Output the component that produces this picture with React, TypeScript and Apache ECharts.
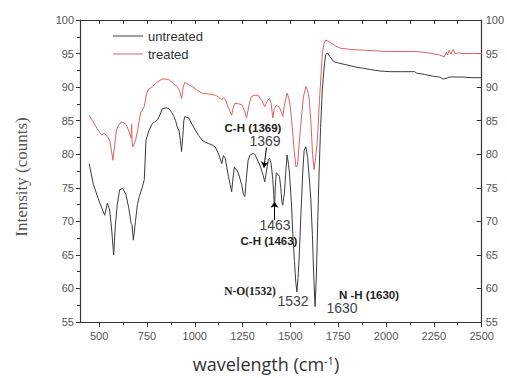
import React, { useEffect, useRef } from "react";
import * as echarts from "echarts";

const seriesNames = ["untreated", "treated"];

const untreated: number[][] = [
  [448, 78.6], [470, 75.5], [500, 73.0], [529, 70.9], [543, 72.7], [555, 71.7], [565, 69.0], [576, 65.0],
  [585, 69.5], [595, 72.5], [607, 74.7], [624, 74.9], [640, 74.0], [655, 72.0], [667, 69.7], [672, 69.5],
  [679, 67.2], [690, 70.0], [700, 72.5], [710, 73.7], [725, 75.0], [736, 76.2], [745, 82.1], [760, 83.5],
  [779, 84.6], [790, 84.8], [805, 85.1], [820, 86.0], [831, 86.8], [850, 86.9], [865, 86.8], [880, 86.2],
  [891, 85.6], [900, 85.0], [908, 84.1], [918, 83.5], [925, 82.0], [931, 80.4], [937, 82.5], [943, 85.0],
  [948, 85.6], [969, 85.4], [985, 84.5], [1003, 83.6], [1020, 82.8], [1038, 82.1], [1055, 81.8], [1072, 81.6],
  [1090, 81.4], [1107, 81.1], [1125, 80.0], [1141, 78.6], [1150, 79.8], [1159, 79.4], [1168, 78.0], [1176, 76.7],
  [1185, 75.5], [1193, 74.4], [1200, 76.5], [1207, 78.1], [1220, 77.6], [1228, 77.2], [1245, 75.5], [1255, 74.0],
  [1262, 73.7], [1270, 76.5], [1279, 79.1], [1290, 79.9], [1305, 80.1], [1314, 80.0], [1330, 79.0], [1345, 78.0],
  [1358, 76.8], [1366, 75.9], [1375, 77.5], [1385, 79.2], [1391, 79.4], [1400, 78.5], [1408, 76.2], [1413, 74.0],
  [1417, 71.7], [1421, 75.0], [1426, 77.2], [1435, 77.0], [1443, 76.7], [1450, 75.0], [1455, 73.0], [1460, 72.4],
  [1465, 73.5], [1469, 74.2], [1475, 77.0], [1483, 79.9], [1490, 78.5], [1495, 77.2], [1505, 73.0], [1513, 68.0],
  [1521, 64.2], [1528, 61.0], [1534, 59.5], [1540, 61.5], [1546, 64.7], [1555, 71.0], [1565, 77.5], [1572, 80.6],
  [1581, 81.1], [1590, 79.5], [1600, 76.0], [1607, 73.2], [1615, 68.0], [1622, 62.0], [1629, 57.3], [1636, 62.0],
  [1643, 70.0], [1650, 77.2], [1658, 84.0], [1667, 89.6], [1675, 92.5], [1684, 94.8], [1693, 95.1], [1705, 94.6],
  [1727, 93.8], [1750, 93.6], [1796, 93.3], [1840, 93.0], [1883, 92.8], [1920, 92.6], [1969, 92.4], [2020, 92.3],
  [2080, 92.3], [2150, 92.3], [2158, 92.1], [2200, 91.9], [2250, 91.6], [2279, 91.5], [2300, 91.2], [2314, 91.3],
  [2330, 91.5], [2355, 91.5], [2400, 91.5], [2450, 91.4], [2500, 91.4],
];

const treated: number[][] = [
  [448, 85.8], [469, 84.8], [490, 83.8], [512, 82.9], [529, 83.1], [545, 82.5], [555, 82.1], [565, 80.5],
  [572, 79.1], [580, 81.0], [590, 83.5], [598, 84.1], [615, 84.8], [630, 84.7], [641, 84.4], [655, 83.5],
  [667, 82.4], [670, 84.5], [672, 82.0], [676, 81.1], [690, 82.0], [702, 83.6], [712, 85.5], [719, 86.3],
  [736, 87.1], [748, 89.1], [760, 89.7], [779, 90.1], [800, 90.7], [831, 91.2], [850, 91.2], [865, 91.1],
  [885, 90.6], [908, 90.1], [920, 89.5], [931, 88.3], [940, 90.0], [948, 90.7], [965, 90.4], [986, 90.1],
  [1010, 89.6], [1038, 89.1], [1070, 89.0], [1107, 88.8], [1125, 88.5], [1141, 88.1], [1150, 88.4], [1159, 88.2],
  [1175, 87.0], [1193, 85.8], [1200, 86.8], [1210, 87.6], [1230, 87.5], [1245, 87.4], [1260, 86.5], [1271, 85.4],
  [1285, 87.5], [1296, 88.6], [1315, 88.8], [1331, 88.8], [1350, 88.0], [1366, 87.1], [1380, 88.0], [1391, 88.3],
  [1400, 87.5], [1408, 85.4], [1416, 86.8], [1426, 87.3], [1443, 87.0], [1452, 86.3], [1460, 85.6], [1470, 87.5],
  [1483, 89.1], [1492, 88.3], [1500, 87.0], [1510, 84.0], [1520, 80.5], [1529, 78.1], [1538, 78.5], [1546, 81.5],
  [1555, 84.6], [1568, 88.5], [1581, 90.1], [1590, 89.5], [1598, 88.3], [1608, 84.5], [1616, 80.0], [1624, 77.7],
  [1632, 79.5], [1641, 82.1], [1652, 88.0], [1667, 95.0], [1676, 96.5], [1684, 97.0], [1701, 96.8], [1730, 96.2],
  [1762, 95.8], [1820, 95.6], [1883, 95.5], [1950, 95.4], [2020, 95.3], [2100, 95.3], [2158, 95.3], [2220, 95.1],
  [2279, 94.8], [2295, 94.6], [2305, 94.5], [2315, 95.2], [2322, 94.8], [2330, 95.5], [2340, 94.9], [2350, 95.6],
  [2360, 95.0], [2380, 95.1], [2400, 95.0], [2450, 95.0], [2500, 95.0],
];

const xMin = 400;
const xMax = 2500;
const xMajorTicks = [500, 750, 1000, 1250, 1500, 1750, 2000, 2250, 2500];
const xMinorTicks = [625, 875, 1125, 1375, 1625, 1875, 2125, 2375];
const yMin = 55;
const yMax = 100;
const yStep = 5;

// arrows (data coordinates): [from, to]
const arrowLines: number[][][] = [
  [[1375, 81.0], [1362, 78.0]],
  [[1417, 70.2], [1417, 72.9]],
];

const annotationTexts = [
  { text: "C-H (1369)", kind: "bold" },
  { text: "1369", kind: "num" },
  { text: "1463", kind: "num" },
  { text: "C-H (1463)", kind: "bold" },
  { text: "N-O(1532)", kind: "serif" },
  { text: "1532", kind: "num" },
  { text: "N -H (1630)", kind: "bold" },
  { text: "1630", kind: "num" },
];
// layout positions (pixels) for annotation texts
const annotationPos = [
  [253, 128], [265, 141], [275, 225], [269, 241], [250, 291], [293, 301], [369, 295], [342, 308],
];

const fontFor = (kind: string) => {
  if (kind === "bold") return "bold 11.5px 'Liberation Sans', Arial, sans-serif";
  if (kind === "serif") return "bold 11.5px 'Liberation Serif', 'Times New Roman', serif";
  return "14px 'Liberation Sans', Arial, sans-serif";
};

export default function App() {
  const ref = useRef<HTMLDivElement>(null);
  useEffect(() => {
    document.body.style.margin = "0";
    const chart = echarts.init(ref.current!, null, { renderer: "svg" });
    const axisColor = "#333";
    const labelStyle = { fontSize: 11, color: "#555", fontFamily: "'Liberation Sans', Arial, sans-serif" };
    chart.setOption({
      animation: false,
      backgroundColor: "#fff",
      grid: { left: 80, right: 21, top: 20, bottom: 56, containLabel: false },
      legend: {
        data: seriesNames,
        orient: "vertical",
        left: 113,
        top: 29,
        padding: 0,
        icon: "rect",
        itemWidth: 30,
        itemHeight: 1,
        itemGap: 4,
        textStyle: { fontSize: 13, color: "#333", fontFamily: "'Liberation Sans', Arial, sans-serif", lineHeight: 14 },
      },
      xAxis: [
        {
          type: "value", min: xMin, max: xMax, position: "bottom",
          axisLine: { show: true, onZero: false, lineStyle: { color: axisColor, width: 1.2 } },
          axisTick: { show: true, inside: false, length: 5, customValues: xMajorTicks, lineStyle: { color: axisColor } },
          axisLabel: { show: true, customValues: xMajorTicks, margin: 8, formatter: (v: number) => String(v), ...labelStyle },
          splitLine: { show: false },
        },
        {
          type: "value", min: xMin, max: xMax, position: "bottom",
          axisLine: { show: false, onZero: false },
          axisTick: { show: true, inside: false, length: 3, customValues: xMinorTicks, lineStyle: { color: axisColor } },
          axisLabel: { show: false },
          splitLine: { show: false },
        },
        {
          type: "value", min: xMin, max: xMax, position: "top",
          axisLine: { show: true, onZero: false, lineStyle: { color: axisColor, width: 1.2 } },
          axisTick: { show: true, inside: true, length: 4, customValues: [...xMajorTicks, ...xMinorTicks], lineStyle: { color: axisColor } },
          axisLabel: { show: false },
          splitLine: { show: false },
        },
      ],
      yAxis: [
        {
          type: "value", min: yMin, max: yMax, interval: yStep, position: "left",
          axisLine: { show: true, onZero: false, lineStyle: { color: axisColor, width: 1.2 } },
          axisTick: { show: true, inside: false, length: 4, lineStyle: { color: axisColor } },
          minorTick: { show: true, splitNumber: 2, length: 3, lineStyle: { color: axisColor } },
          axisLabel: { margin: 6, ...labelStyle },
          splitLine: { show: false },
        },
        {
          type: "value", min: yMin, max: yMax, interval: yStep, position: "right",
          axisLine: { show: true, onZero: false, lineStyle: { color: axisColor, width: 1.2 } },
          axisTick: { show: true, inside: true, length: 5, lineStyle: { color: axisColor } },
          axisLabel: { margin: 4, ...labelStyle },
          splitLine: { show: false },
        },
      ],
      series: [
        {
          name: seriesNames[0], type: "line", data: untreated, xAxisIndex: 0, yAxisIndex: 0,
          symbol: "none", showSymbol: false, color: "#3c3c3c",
          lineStyle: { color: "#3c3c3c", width: 1 },
          markLine: {
            silent: true, symbol: ["none", "arrow"], symbolSize: 6,
            label: { show: false },
            lineStyle: { color: "#000", width: 1, type: "solid" },
            data: arrowLines.map(([a, b]) => [{ coord: a }, { coord: b }]),
          },
        },
        {
          name: seriesNames[1], type: "line", data: treated, xAxisIndex: 0, yAxisIndex: 0,
          symbol: "none", showSymbol: false, color: "#dc6262",
          lineStyle: { color: "#dc6262", width: 1 },
        },
      ],
      graphic: [
        ...annotationTexts.map((t, i) => ({
          type: "text",
          x: annotationPos[i][0],
          y: annotationPos[i][1],
          style: {
            text: t.text,
            font: fontFor(t.kind),
            fill: t.kind === "num" ? "#444" : "#222",
            textAlign: "center",
            textVerticalAlign: "middle",
          },
        })),
        {
          type: "text", x: 21, y: 177, rotation: Math.PI / 2,
          style: {
            text: "Intensity (counts)",
            font: "17px 'Liberation Serif', 'Times New Roman', serif",
            fill: "#555", textAlign: "center", textVerticalAlign: "middle",
          },
        },
        {
          type: "text", x: 266, y: 364,
          style: {
            text: "{a|wavelength (cm}{s|-1}{a|)}",
            textAlign: "center", textVerticalAlign: "middle",
            rich: {
              a: { fontSize: 18, fontFamily: "'Open Sans', sans-serif", fill: "#333", color: "#333" },
              s: { fontSize: 11, fontFamily: "'Open Sans', sans-serif", fill: "#333", color: "#333", verticalAlign: "top", padding: [0, 0, 8, 0] },
            },
          },
        },
      ],
    });
    return () => chart.dispose();
  }, []);
  return <div ref={ref} style={{ width: 507, height: 378 }} />;
}
